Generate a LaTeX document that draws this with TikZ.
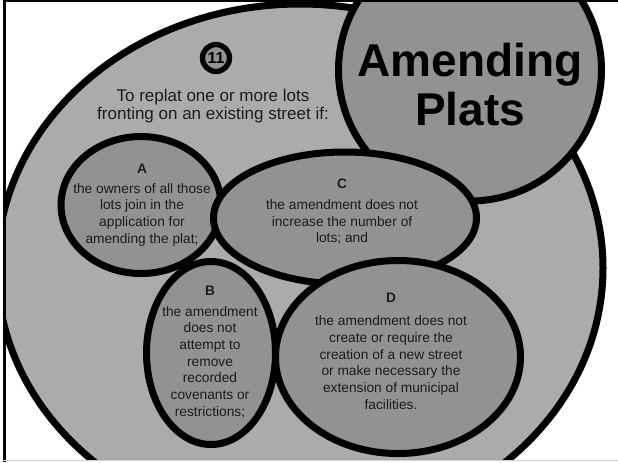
\documentclass[tikz,border=0pt]{standalone}
\usepackage{fontspec}
\setmainfont{Liberation Sans}
\usetikzlibrary{shapes.geometric}

\definecolor{outergray}{RGB}{171,171,171}
\definecolor{innergray}{RGB}{146,146,146}
\definecolor{inkgray}{RGB}{28,28,28}
\definecolor{edgegray}{RGB}{210,210,210}

\begin{document}
\begin{tikzpicture}[x=0.75pt, y=-0.75pt,
  blob/.style 2 args={draw=black, ellipse, line width=5.25pt, fill=innergray,
    inner sep=0pt, minimum width=#1*0.75pt, minimum height=#2*0.75pt},
  body/.style={align=center, text=inkgray, inner sep=0pt,
    font=\fontsize{10.3}{12.5}\selectfont},
  title/.style={align=center, inner sep=0pt,
    font=\bfseries\fontsize{34.5}{36.75}\selectfont}]
  \useasboundingbox (0,0) rectangle (618,462);

  % the ellipses, cut off at the frame
  \begin{scope}
    \clip (4,1) rectangle (618,460);
    \node[blob={606}{528}, fill=outergray] (big) at (300,268) {};
    \node[blob={263}{262}] (plats) at (470,70) {};
    \node[blob={160}{137}] (A) at (141,205) {};
    \node[blob={263}{132}] (C) at (345,218) {};
    \node[blob={129}{183}] (B) at (211,353) {};
    \node[blob={245}{193}] (D) at (398,357) {};
  \end{scope}

  % frame
  \draw[line width=2.25pt] (4.5,0) -- (4.5,462);
  \draw[line width=1.5pt] (3,1) -- (618,1);
  \draw[edgegray, line width=1.1pt] (3,460.5) -- (618,460.5);

  % number and heading
  \node[draw=black, circle, line width=4pt, fill=innergray, inner sep=0pt,
    minimum size=27*0.75pt, font=\bfseries\fontsize{12}{13}\selectfont]
    (num) at (216,58) {11};
  \node[body, font=\fontsize{12.75}{13.9}\selectfont] (intro) at (213,106)
    {To replat one or more lots\\ fronting on an existing street if:};
  \node[title] (platsText) at (plats.center) [yshift=-14.5*0.75pt]
    {Amending\\ Plats};

  % the four conditions
  \node[body] (textA) at (142,205)
    {\textbf{A}\\[2.5pt] the owners of all those\\ lots join in the\\
     application for\\ amending the plat;};
  \node[body] (textC) at (342,212)
    {\textbf{C}\\[3pt] the amendment does not\\ increase the number of\\ lots; and};
  \node[body] (textB) at (210,352)
    {\textbf{B}\\[3pt] the amendment\\ does not\\ attempt to\\ remove\\
     recorded\\ covenants or\\ restrictions;};
  \node[body] (textD) at (391,351)
    {\textbf{D}\\[5pt] the amendment does not\\ create or require the\\
     creation of a new street\\ or make necessary the\\
     extension of municipal\\ facilities.};
\end{tikzpicture}
\end{document}
